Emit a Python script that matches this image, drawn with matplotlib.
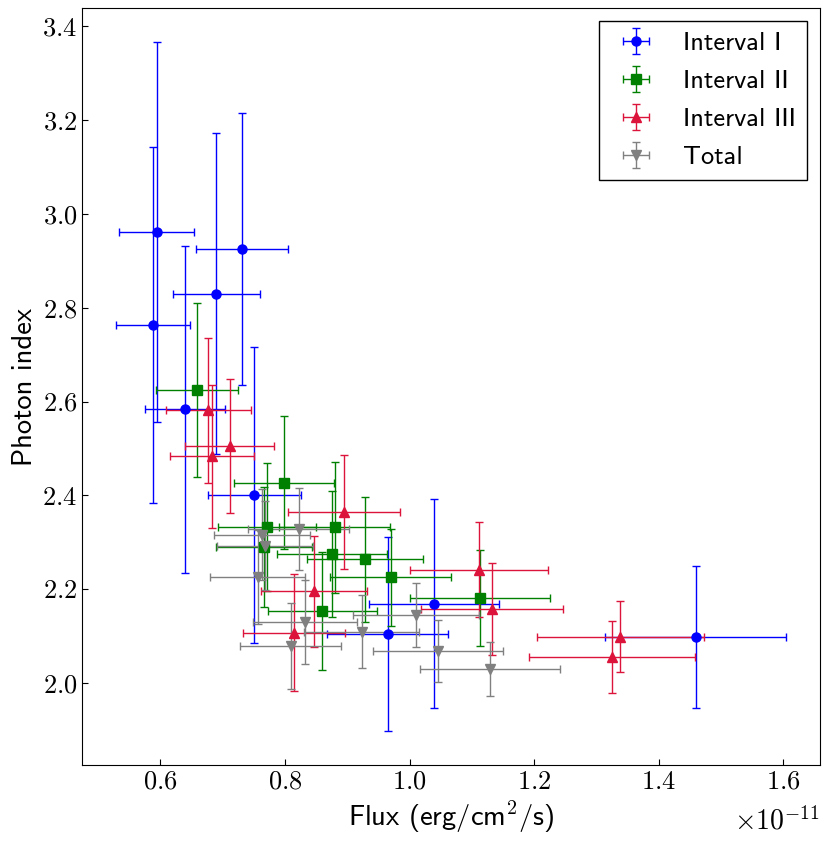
import matplotlib
matplotlib.use("Agg")
import matplotlib.pyplot as plt

# Fluxo em unidades de 1e-11 erg/cm2/s, indice de fotons com erros simetricos
intervalo1_fluxo = [0.594, 0.731, 0.690, 0.588, 0.640, 0.751, 0.965, 1.039, 1.459]
intervalo1_indice = [2.961, 2.925, 2.830, 2.763, 2.583, 2.401, 2.105, 2.169, 2.098]
intervalo1_fluxo_err = [0.060, 0.074, 0.070, 0.060, 0.064, 0.075, 0.097, 0.104, 0.146]
intervalo1_indice_err = [0.405, 0.290, 0.342, 0.380, 0.348, 0.316, 0.207, 0.222, 0.152]

intervalo2_fluxo = [0.659, 0.798, 0.771, 0.880, 0.767, 0.875, 0.929, 0.970, 0.860, 1.113]
intervalo2_indice = [2.625, 2.427, 2.332, 2.332, 2.290, 2.275, 2.263, 2.225, 2.153, 2.181]
intervalo2_fluxo_err = [0.066, 0.080, 0.078, 0.089, 0.077, 0.088, 0.093, 0.097, 0.087, 0.112]
intervalo2_indice_err = [0.186, 0.142, 0.136, 0.140, 0.128, 0.135, 0.134, 0.103, 0.126, 0.102]

intervalo3_fluxo = [0.677, 0.711, 0.683, 0.895, 0.847, 0.815, 1.111, 1.133, 1.338, 1.325]
intervalo3_indice = [2.581, 2.506, 2.483, 2.364, 2.195, 2.107, 2.241, 2.157, 2.098, 2.055]
intervalo3_fluxo_err = [0.068, 0.071, 0.068, 0.090, 0.085, 0.082, 0.111, 0.114, 0.134, 0.133]
intervalo3_indice_err = [0.154, 0.143, 0.153, 0.122, 0.118, 0.124, 0.101, 0.098, 0.076, 0.076]

total_fluxo = [0.822, 0.763, 0.768, 0.756, 0.832, 0.809, 0.923, 1.010, 1.046, 1.129]
total_indice = [2.328, 2.316, 2.292, 2.226, 2.130, 2.078, 2.109, 2.144, 2.068, 2.030]
total_fluxo_err = [0.081, 0.077, 0.077, 0.076, 0.084, 0.081, 0.092, 0.101, 0.104, 0.113]
total_indice_err = [0.088, 0.097, 0.095, 0.100, 0.090, 0.092, 0.078, 0.068, 0.066, 0.058]

fator_escala = r"$\times\mathdefault{10^{-11}}$"

series = [
    ("Interval I", intervalo1_fluxo, intervalo1_indice, intervalo1_fluxo_err, intervalo1_indice_err, "blue", "o"),
    ("Interval II", intervalo2_fluxo, intervalo2_indice, intervalo2_fluxo_err, intervalo2_indice_err, "green", "s"),
    ("Interval III", intervalo3_fluxo, intervalo3_indice, intervalo3_fluxo_err, intervalo3_indice_err, "crimson", "^"),
    ("Total", total_fluxo, total_indice, total_fluxo_err, total_indice_err, "gray", "v"),
]

# Fontes estilo LaTeX: serifada nos ticks, sans nos rotulos
plt.rcParams["font.family"] = "cmr10"
plt.rcParams["mathtext.fontset"] = "cm"
plt.rcParams["axes.formatter.use_mathtext"] = True
plt.rcParams["axes.unicode_minus"] = False

fig = plt.figure(figsize=(8.3, 8.43), dpi=100)
ax = fig.add_axes([82 / 830, 1 - 765 / 843, 738 / 830, 757 / 843])

for nome, fx, idx, fx_err, idx_err, cor, marcador in series:
    ax.errorbar(fx, idx, xerr=fx_err, yerr=idx_err,
                fmt=marcador, color=cor, ecolor=cor, markersize=6.5,
                elinewidth=1, capsize=3, capthick=1, label=nome)

ax.tick_params(direction="in", labelsize=19, length=4)

ax.set_xlabel(r"Flux (erg/cm$^{\mathsf{2}}$/s)", fontfamily="cmss10", fontsize=20.5)
ax.set_ylabel("Photon index", fontfamily="cmss10", fontsize=20.5)

leg = ax.legend(loc="upper right", fancybox=False, framealpha=1, edgecolor="black",
                prop={"family": "cmss10", "size": 19}, handlelength=2.0,
                labelspacing=0.55)
leg.get_frame().set_linewidth(1.0)

# Fator de escala do eixo x, abaixo dos ticks e alinhado a direita
fig.text(820 / 830, 1 - 830 / 843, fator_escala, ha="right", va="baseline", fontsize=20)

fig.savefig("out.png", dpi=100)
